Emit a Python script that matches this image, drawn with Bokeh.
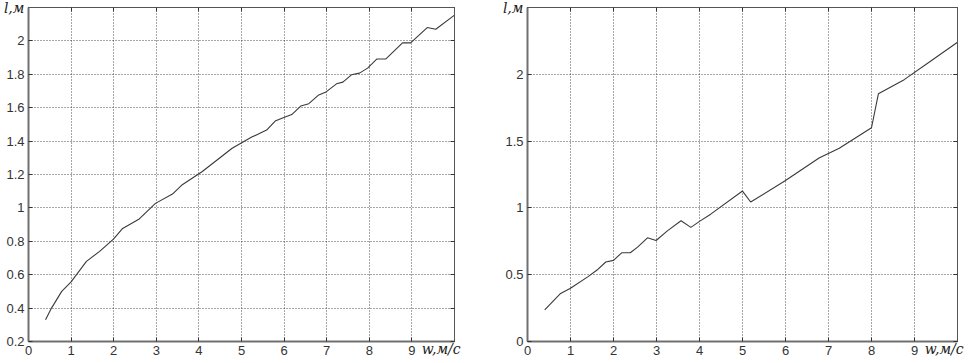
from bokeh.plotting import figure
from bokeh.layouts import row
from bokeh.models import FixedTicker, LinearAxis, CustomJSTickFormatter, Range1d
from bokeh.embed import file_html
from bokeh.resources import INLINE

# ---- data ----
left_w = [0.4, 0.54, 0.78, 1.0, 1.36, 1.67, 2.0, 2.21, 2.6, 2.98, 3.38, 3.61, 4.08, 4.78,
          5.24, 5.59, 5.79, 5.98, 6.18, 6.39, 6.58, 6.8, 6.97, 7.23, 7.38, 7.58, 7.77, 7.96,
          8.18, 8.39, 8.78, 8.97, 9.36, 9.56, 10.0]
left_l = [0.33, 0.40, 0.50, 0.557, 0.68, 0.74, 0.815, 0.877, 0.934, 1.027, 1.083, 1.139, 1.218, 1.357,
          1.424, 1.466, 1.52, 1.54, 1.559, 1.61, 1.624, 1.674, 1.692, 1.743, 1.753, 1.797, 1.807, 1.837,
          1.892, 1.892, 1.988, 1.988, 2.08, 2.07, 2.154]

right_w = [0.4, 0.77, 1.0, 1.4, 1.61, 1.82, 2.0, 2.19, 2.39, 2.56, 2.79, 2.99, 3.26, 3.57, 3.8, 4.0,
           4.26, 5.0, 5.19, 6.0, 6.78, 7.25, 8.0, 8.16, 8.76, 9.38, 10.0]
right_l = [0.237, 0.36, 0.398, 0.484, 0.533, 0.595, 0.607, 0.664, 0.664, 0.706, 0.776, 0.756, 0.83,
           0.904, 0.854, 0.899, 0.953, 1.126, 1.044, 1.205, 1.373, 1.447, 1.6, 1.854, 1.96, 2.1, 2.24]

x_ticks = [0, 1, 2, 3, 4, 5, 6, 7, 8, 9]
left_y_ticks = [0.2, 0.4, 0.6, 0.8, 1.0, 1.2, 1.4, 1.6, 1.8, 2.0]
right_y_ticks = [0.0, 0.5, 1.0, 1.5, 2.0]
y_label = "l,м"
x_label = "w,м/с"

TICK_FONT = "Liberation Sans"
LABEL_FONT = "DejaVu Serif"
PAD = "\u00a0" * 6  # shifts the end-aligned x label to the left of the corner


def make(xs, ys, x_end, y_start, y_end, yt, width, bl, br):
    p = figure(width=width, height=363, output_backend="svg", toolbar_location=None,
               x_range=Range1d(0, x_end), y_range=Range1d(y_start, y_end),
               min_border_left=bl, min_border_right=br, min_border_top=7, min_border_bottom=22,
               background_fill_color="white", border_fill_color="white")
    p.outline_line_color = "black"
    p.outline_line_width = 1
    p.xaxis.ticker = FixedTicker(ticks=x_ticks)
    p.yaxis.ticker = FixedTicker(ticks=yt)
    p.yaxis.formatter = CustomJSTickFormatter(code="return String(Math.round(tick*10)/10)")
    for ax in (p.xaxis[0], p.yaxis[0]):
        ax.axis_line_color = "#707070"
        ax.axis_line_width = 2
        ax.major_tick_in = 4
        ax.major_tick_out = 0
        ax.major_tick_line_color = "#333333"
        ax.minor_tick_line_color = None
        ax.major_label_text_font = TICK_FONT
        ax.major_label_text_font_size = "13px"
        ax.major_label_text_color = "#333333"
        ax.major_label_standoff = 4
        ax.axis_label_text_font = LABEL_FONT
        ax.axis_label_text_font_style = "italic"
        ax.axis_label_text_font_size = "14px"
        ax.axis_label_text_color = "#222222"
        if hasattr(ax, "axis_label_align"):
            ax.axis_label_align = "end"
    xa, ya = p.xaxis[0], p.yaxis[0]
    xa.axis_label = x_label + PAD
    xa.axis_label_standoff = -17
    ya.axis_label = y_label
    ya.axis_label_orientation = "horizontal"
    ya.axis_label_standoff = -21
    for loc, t in (("above", x_ticks), ("right", yt)):
        ax = LinearAxis(ticker=FixedTicker(ticks=t),
                        formatter=CustomJSTickFormatter(code="return ''"),
                        major_tick_in=4, major_tick_out=0, minor_tick_line_color=None,
                        major_tick_line_color="#333333", axis_line_color="#555555",
                        axis_line_width=1, major_label_standoff=0,
                        major_label_text_font_size="1px")
        p.add_layout(ax, loc)
    for g in (p.xgrid[0], p.ygrid[0]):
        g.grid_line_color = "#111111"
        g.grid_line_dash = "1 2"
        g.grid_line_width = 1
        g.grid_line_alpha = 0.75
    p.line(xs, ys, line_color="#3a3a3a", line_width=1.1)
    return p


p1 = make(left_w, left_l, 10, 0.2, 2.2, left_y_ticks, 480, 25, 26)
p2 = make(right_w, right_l, 10, 0.0, 2.5, right_y_ticks, 492, 47, 15)

layout = row(p1, p2)
open("out.html", "w").write(file_html(layout, INLINE))
